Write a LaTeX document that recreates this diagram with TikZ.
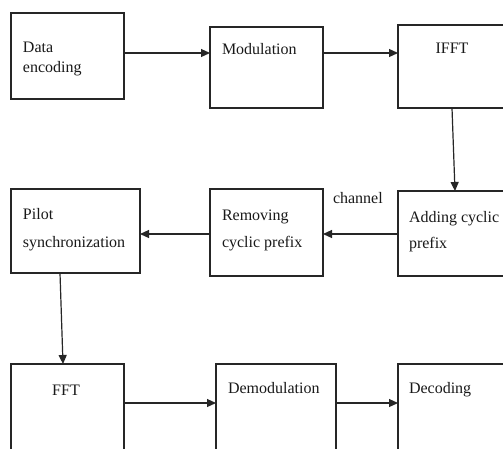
\documentclass[tikz,border=0pt]{standalone}
\usepackage{fontspec}
\setmainfont{Liberation Serif}
\usetikzlibrary{arrows.meta,calc}
\begin{document}
\begin{tikzpicture}[x=1pt,y=-1pt,
  box/.style={draw=black!85, line width=1.2pt, inner sep=0pt, outer sep=0pt, anchor=north west},
  lbl/.style={inner sep=0pt, outer sep=0pt, anchor=base west, text=black!90, font=\fontsize{16}{20}\selectfont},
  arr/.style={draw=black!85, line width=1.2pt, -{Triangle[length=9pt,width=8pt]}}]
\useasboundingbox[fill=white] (0,0) rectangle (503,448);
\clip (0,0) rectangle (503,448);
% boxes
\node[box, minimum width=113pt, minimum height=86pt] (data) at (11,13) {};
\node[box, minimum width=113pt, minimum height=81pt] (mod) at (210,27) {};
\node[box, minimum width=108pt, minimum height=83pt] (ifft) at (398,25) {};
\node[box, minimum width=129pt, minimum height=84pt] (pilot) at (11,189) {};
\node[box, minimum width=113pt, minimum height=87pt] (remov) at (210,189) {};
\node[box, minimum width=114pt, minimum height=85pt] (adding) at (398,191) {};
\node[box, minimum width=113pt, minimum height=100pt] (fft) at (11,364) {};
\node[box, minimum width=120pt, minimum height=100pt] (demod) at (216,364) {};
\node[box, minimum width=120pt, minimum height=100pt] (decod) at (398,364) {};
% texts
\node[lbl] (t1a) at (23,52) {Data};
\node[lbl] (t1b) at (23,72) {encoding};
\node[lbl] (t2) at (222,54) {Modulation};
\node[lbl, anchor=base] (t3) at (452,53) {IFFT};
\node[lbl] (t4a) at (23,219) {Pilot};
\node[lbl] (t4b) at (23,247) {synchronization};
\node[lbl] (t5a) at (222,220) {Removing};
\node[lbl] (t5b) at (222,247) {cyclic prefix};
\node[lbl] (t6a) at (409,222) {Adding cyclic};
\node[lbl] (t6b) at (409,248) {prefix};
\node[lbl] (chan) at (333,203) {channel};
\node[lbl, anchor=base] (t7) at (66,395) {FFT};
\node[lbl] (t8) at (228,393) {Demodulation};
\node[lbl] (t9) at (409,393) {Decoding};
% levels
\coordinate (r1) at (0,53);
\coordinate (r2) at (0,234);
\coordinate (r3) at (0,403);
\coordinate (c1) at (452,0);
\coordinate (c2) at (455,0);
\coordinate (c3) at (60,0);
\coordinate (c4) at (63,0);
% connectors
\draw[arr] (data.east |- r1) -- (mod.west |- r1);
\draw[arr] (mod.east |- r1) -- (ifft.west |- r1);
\draw[arr] (ifft.south -| c1) -- (adding.north -| c2);
\draw[arr] (adding.west |- r2) -- (remov.east |- r2);
\draw[arr] (remov.west |- r2) -- (pilot.east |- r2);
\draw[arr] (pilot.south -| c3) -- (fft.north -| c4);
\draw[arr] (fft.east |- r3) -- (demod.west |- r3);
\draw[arr] (demod.east |- r3) -- (decod.west |- r3);
\end{tikzpicture}
\end{document}
